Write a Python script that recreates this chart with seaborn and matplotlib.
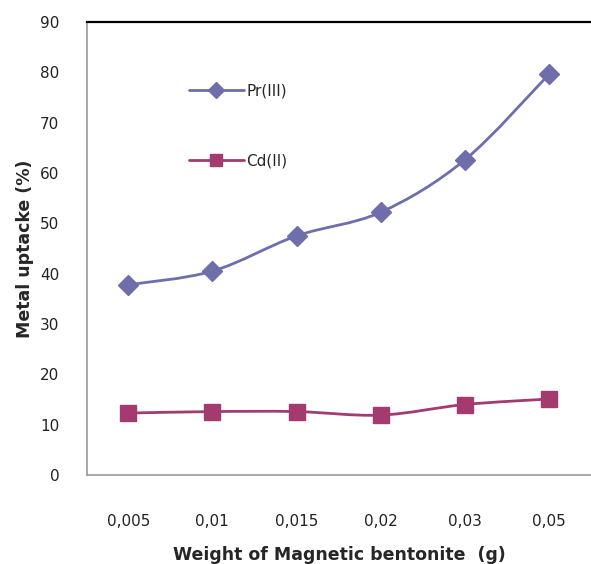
import matplotlib
matplotlib.use("Agg")
import matplotlib.pyplot as plt
from matplotlib.path import Path
from matplotlib.patches import PathPatch
from matplotlib.lines import Line2D
import seaborn as sns
import pandas as pd
import numpy as np

categories = ["0,005", "0,01", "0,015", "0,02", "0,03", "0,05"]
pr_values = [37.8, 40.5, 47.5, 52.2, 62.6, 79.6]
cd_values = [12.3, 12.6, 12.6, 11.9, 14.0, 15.1]
series_names = ["Pr(III)", "Cd(II)"]
colors = {"Pr(III)": "#6E6EAA", "Cd(II)": "#A33A70"}
markers = {"Pr(III)": "D", "Cd(II)": "s"}

df = pd.DataFrame({
    "x": list(range(len(categories))) * 2,
    "value": pr_values + cd_values,
    "series": [series_names[0]] * len(pr_values) + [series_names[1]] * len(cd_values),
})

sns.set_style("white")
plt.rcParams["font.family"] = ["DejaVu Sans"]

fig = plt.figure(figsize=(5.91, 5.64), dpi=100)
ax = fig.add_axes([87 / 591, 1 - 475 / 564, 1 - 87 / 591, (475 - 22) / 564])


def smooth_path(xs, ys, tension=1 / 6):
    xs = np.asarray(xs, float)
    ys = np.asarray(ys, float)
    verts = [(xs[0], ys[0])]
    codes = [Path.MOVETO]
    n = len(xs)
    for i in range(n - 1):
        p0 = np.array([xs[max(i - 1, 0)], ys[max(i - 1, 0)]])
        p1 = np.array([xs[i], ys[i]])
        p2 = np.array([xs[i + 1], ys[i + 1]])
        p3 = np.array([xs[min(i + 2, n - 1)], ys[min(i + 2, n - 1)]])
        c1 = p1 + (p2 - p0) * tension
        c2 = p2 - (p3 - p1) * tension
        verts += [tuple(c1), tuple(c2), tuple(p2)]
        codes += [Path.CURVE4, Path.CURVE4, Path.CURVE4]
    return Path(verts, codes)


for name, vals in zip(series_names, [pr_values, cd_values]):
    patch = PathPatch(smooth_path(range(len(vals)), vals), facecolor="none",
                      edgecolor=colors[name], lw=2.0, zorder=2)
    ax.add_patch(patch)

sns.scatterplot(data=df, x="x", y="value", hue="series", style="series",
                palette=colors, markers=markers, s=[0], ax=ax, legend=False)
for name in series_names:
    sub = df[df["series"] == name]
    ax.plot(sub["x"], sub["value"], linestyle="none", marker=markers[name],
            markersize=10 if name == "Pr(III)" else 11,
            color=colors[name], markeredgecolor=colors[name], zorder=3)

ax.set_xlim(-0.49, 5.5)
ax.set_ylim(0, 90)
ax.set_yticks(range(0, 91, 10))
ax.set_xticks(range(len(categories)))
ax.set_xticklabels(categories)
ax.tick_params(axis="both", length=0, labelsize=11, colors="#222222")
ax.tick_params(axis="y", pad=20)
ax.tick_params(axis="x", pad=28)

ax.spines["right"].set_visible(False)
ax.spines["top"].set_color("black")
ax.spines["top"].set_linewidth(1.6)
ax.spines["left"].set_color("#999999")
ax.spines["bottom"].set_color("#999999")
ax.spines["left"].set_linewidth(1.2)
ax.spines["bottom"].set_linewidth(1.2)

ax.set_xlabel("Weight of Magnetic bentonite  (g)", fontsize=12.5, fontweight="bold", labelpad=12)
ax.set_ylabel("Metal uptacke (%)", fontsize=12.5, fontweight="bold", labelpad=4)

handles = [Line2D([0], [0], color=colors[n], lw=2.0, marker=markers[n],
                  markersize=8 if n == "Pr(III)" else 9) for n in series_names]
leg = ax.legend(handles, series_names, loc="upper left", bbox_to_anchor=(0.175, 0.895),
                frameon=False, fontsize=11, handlelength=3.6, handletextpad=0.15,
                labelspacing=3.6)

fig.savefig("out.png", dpi=100)
